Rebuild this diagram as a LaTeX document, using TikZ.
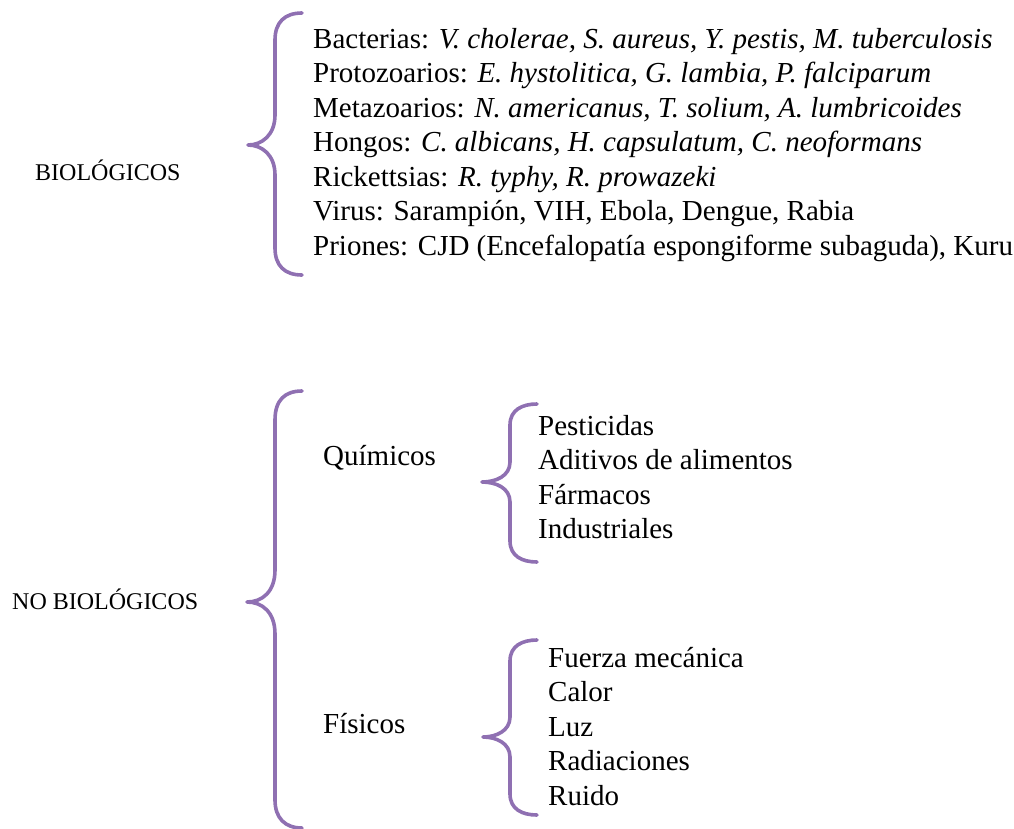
\documentclass[tikz,border=0pt]{standalone}
\usepackage{fontspec}
\setmainfont{Liberation Serif}
\definecolor{bracecol}{RGB}{143,112,178}
\tikzset{
  brace/.style={draw=bracecol, line width=3.6pt, line cap=round, line join=round},
  txt/.style={anchor=base west, inner sep=0pt, font=\fontsize{29}{34}\selectfont},
  lbl/.style={anchor=base west, inner sep=0pt, font=\fontsize{24}{28}\selectfont},
}
\begin{document}
\begin{tikzpicture}[x=1pt,y=-1pt]
\useasboundingbox (0,0) rectangle (1014,828);
% labels
\node[lbl] (bio) at (35,180) {BIOLÓGICOS};
\node[lbl] (nobio) at (12,609) {NO BIOLÓGICOS};
% biological list
\node[txt] (b1) at (313,48) {Bacterias: \textit{V. cholerae, S. aureus, Y. pestis, M. tuberculosis}};
\node[txt] (b2) at (313,82.5) {Protozoarios: \textit{E. hystolitica, G. lambia, P. falciparum}};
\node[txt] (b3) at (313,117) {Metazoarios: \textit{N. americanus, T. solium, A. lumbricoides}};
\node[txt] (b4) at (313,151.5) {Hongos: \textit{C. albicans, H. capsulatum, C. neoformans}};
\node[txt] (b5) at (313,186) {Rickettsias: \textit{R. typhy, R. prowazeki}};
\node[txt] (b6) at (313,220.5) {Virus: Sarampión, VIH, Ebola, Dengue, Rabia};
\node[txt] (b7) at (313,255) {Priones: CJD (Encefalopatía espongiforme subaguda), Kuru};
% non biological
\node[txt] (qui) at (323,465) {Químicos};
\node[txt] (fis) at (323,733) {Físicos};
\node[txt] (q1) at (538,435) {Pesticidas};
\node[txt] (q2) at (538,469.5) {Aditivos de alimentos};
\node[txt] (q3) at (538,504) {Fármacos};
\node[txt] (q4) at (538,538) {Industriales};
\node[txt] (f1) at (548,667) {Fuerza mecánica};
\node[txt] (f2) at (548,701.5) {Calor};
\node[txt] (f3) at (548,736) {Luz};
\node[txt] (f4) at (548,770.5) {Radiaciones};
\node[txt] (f5) at (548,805) {Ruido};
% braces
\draw[brace] (302,13) .. controls (285,13) and (275,22) .. (275,40)
  -- (275,115) .. controls (275,135) and (262,145) .. (248,145)
  .. controls (262,145) and (275,155) .. (275,175)
  -- (275,248) .. controls (275,266) and (285,275) .. (302,275);
\draw[brace] (302,391) .. controls (285,391) and (275,400) .. (275,420)
  -- (275,570) .. controls (275,592) and (262,602) .. (247,602)
  .. controls (262,602) and (275,612) .. (275,634)
  -- (275,800) .. controls (275,818) and (285,828) .. (302,828);
\draw[brace] (537,404) .. controls (522,404) and (510,410) .. (510,425)
  -- (510,462) .. controls (510,476) and (496,482) .. (482,482)
  .. controls (496,482) and (510,488) .. (510,502)
  -- (510,541) .. controls (510,556) and (522,562) .. (537,562);
\draw[brace] (537,640) .. controls (522,640) and (510,646) .. (510,661)
  -- (510,717) .. controls (510,731) and (496,737) .. (483,737)
  .. controls (496,737) and (510,743) .. (510,757)
  -- (510,794) .. controls (510,809) and (522,815) .. (537,815);
\end{tikzpicture}
\end{document}
